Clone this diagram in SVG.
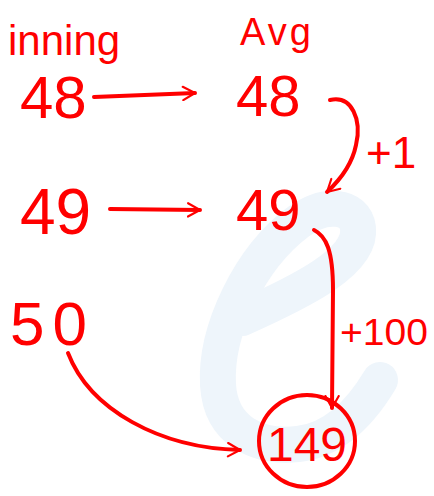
<svg xmlns="http://www.w3.org/2000/svg" width="434" height="496" viewBox="0 0 434 496">
<style>
.t{font-family:"Liberation Sans","DejaVu Sans",sans-serif;fill:#ff0000;}
.c{fill:none;stroke:#ff0000;stroke-width:4;stroke-linecap:round;stroke-linejoin:round;}
.wm{fill:none;stroke:#eef5fb;stroke-width:36;stroke-linecap:round;}
</style>
<defs>
<marker id="ah" viewBox="0 0 12 12" refX="10" refY="6" markerWidth="4" markerHeight="4" orient="auto" markerUnits="strokeWidth">
<path d="M1,1 L10,6 L1,11" fill="none" stroke="#ff0000" stroke-width="1.6" stroke-linecap="round" stroke-linejoin="round"/>
</marker>
</defs>
<rect width="434" height="496" fill="#ffffff"/>
<path class="wm" d="M242,318 C300,292 362,262 358,228 C355,205 325,202 298,222 C250,258 215,330 218,385 C221,432 258,448 298,444 C336,440 362,410 380,380"/>
<g id="inning"><text class="t" x="8" y="55" font-size="42">inning</text></g>
<g id="avg"><text class="t" x="240" y="45" font-size="38" letter-spacing="3">Avg</text></g>
<g id="in48"><text class="t" x="20" y="118" font-size="60">48</text></g>
<g id="avg48"><text class="t" x="236" y="116" font-size="58">48</text></g>
<g id="in49"><text class="t" x="20" y="234" font-size="64">49</text></g>
<g id="avg49"><text class="t" x="236" y="230" font-size="58">49</text></g>
<g id="in50"><text class="t" x="10" y="345" font-size="62" letter-spacing="8">50</text></g>
<g id="res149">
<ellipse class="c" cx="307" cy="441" rx="48" ry="46"/>
<text class="t" x="307" y="461" font-size="48" text-anchor="middle">149</text>
</g>
<g id="connectors">
<path class="c" d="M94,97 L195,93" marker-end="url(#ah)"/>
<path class="c" d="M110,209 L200,210" marker-end="url(#ah)"/>
<path class="c" d="M330,100 C352,95 362,120 356,145 C352,165 340,180 327,192" marker-end="url(#ah)"/>
<path class="c" d="M314,230 C326,236 333,250 333,290 L332,408" marker-end="url(#ah)"/>
<path class="c" d="M68,353 C90,410 160,448 240,450" marker-end="url(#ah)"/>
</g>
<g id="labels">
<text class="t" x="366" y="168" font-size="44">+1</text>
<text class="t" x="340" y="345" font-size="36" textLength="88" lengthAdjust="spacingAndGlyphs">+100</text>
</g>
</svg>
